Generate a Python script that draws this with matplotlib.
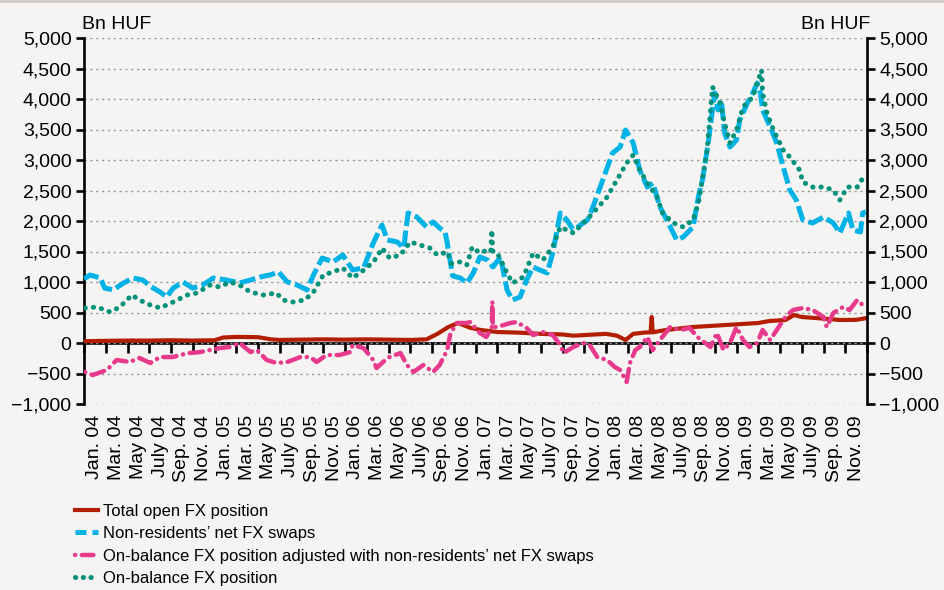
import matplotlib
matplotlib.use("Agg")
import matplotlib.pyplot as plt
from matplotlib import font_manager
from matplotlib.lines import Line2D
import numpy as np

# ---------------- data (x = months since Jan 2004) ----------------
month_names = ["Jan.", "Mar.", "May", "July", "Sep.", "Nov."]
years = ["04", "05", "06", "07", "08", "09"]
tick_labels = [f"{m} {y}" for y in years for m in month_names]

swaps_m = [0.0, 0.55, 1.5, 1.9, 2.7, 3.6, 4.5, 5.4, 6.2, 7.0, 7.6, 8.2, 9.1, 10.0, 10.9, 11.9,
           13.1, 14.3, 15.3, 16.2, 17.1, 17.9, 18.7, 19.6, 20.5, 21.1, 21.9, 22.9, 23.8, 24.7,
           25.7, 26.6, 27.4, 27.9, 28.8, 29.4, 29.8, 30.6, 31.5, 32.1, 32.7, 33.2, 33.4, 33.9,
           34.6, 35.2, 35.8, 36.4, 37.1, 37.6, 38.3, 38.9, 39.4, 40.1, 40.7, 41.3, 41.9, 42.6,
           43.1, 43.8, 44.4, 45.0, 46.3, 46.8, 47.7, 48.6, 49.3, 49.8, 50.5, 51.1, 51.8, 52.3,
           52.96, 53.6, 54.5, 55.1, 56.0, 56.5, 56.9, 57.4, 57.7, 58.0, 58.3, 58.6, 58.9, 59.4,
           60.0, 60.3, 61.0, 61.5, 61.9, 62.2, 62.4, 63.1, 63.7, 64.3, 64.9, 65.5, 66.1, 67.0,
           68.0, 68.9, 69.5, 70.3, 70.7, 71.4, 71.6, 71.9]
swaps_v = [1050, 1115, 1066, 900, 870, 980, 1066, 1033, 918, 836, 754, 900, 1000, 900, 950, 1066,
           1033, 983, 1033, 1082, 1115, 1164, 1000, 950, 870, 1115, 1393, 1328, 1443, 1197,
           1230, 1640, 1934, 1689, 1656, 1557, 2131, 2066, 1902, 1984, 1885, 1820, 1640, 1100,
           1066, 983, 1148, 1410, 1360, 1246, 1410, 870, 705, 754, 1033, 1246, 1197, 1148,
           1475, 2131, 2016, 1852, 2016, 2230, 2672, 3115, 3213, 3492, 3279, 2836, 2557, 2623,
           2230, 2016, 1689, 1738, 1902, 2400, 2700, 3279, 3705, 4098, 3820, 3984, 3443, 3213,
           3328, 3656, 3934, 4098, 4262, 4098, 3820, 3541, 3279, 2885, 2508, 2344, 2016, 1967,
           2066, 1967, 1803, 2131, 1852, 1820, 2131, 2150]

onbal_m = [0.1, 1.2, 2.4, 3.3, 4.4, 5.1, 6.1, 7.0, 8.2, 9.5, 10.4, 11.6, 12.5, 13.4, 14.3, 15.3,
           16.5, 17.7, 18.3, 19.2, 20.3, 21.1, 22.0, 22.9, 23.8, 24.7, 26.0, 26.9, 27.4, 28.1,
           29.1, 30.0, 30.9, 31.8, 32.5, 33.4, 33.8, 34.6, 35.2, 35.7, 36.4, 37.1, 37.4, 37.5,
           37.6, 38.0, 38.9, 39.4, 40.4, 41.3, 42.2, 43.1, 43.8, 45.0, 45.9, 46.8, 48.1, 49.0,
           49.9, 50.5, 51.1, 51.8, 52.7, 53.2, 54.2, 55.1, 56.0, 56.5, 57.3, 57.8, 58.5, 58.9,
           59.4, 60.0, 60.6, 61.5, 62.3, 62.4, 62.8, 63.4, 64.3, 64.9, 65.8, 66.1, 67.0, 68.0,
           68.9, 69.5, 70.2, 71.1, 71.8]
onbal_v = [574, 590, 508, 590, 787, 705, 623, 574, 672, 787, 820, 950, 918, 1000, 950, 836,
           787, 820, 705, 672, 705, 836, 1115, 1164, 1230, 1066, 1230, 1393, 1557, 1393,
           1443, 1656, 1607, 1557, 1443, 1492, 1300, 1330, 1279, 1574, 1475, 1525, 1500, 1852,
           1500, 1475, 1148, 983, 1082, 1475, 1361, 1574, 1902, 1803, 1967, 2131, 2393, 2672,
           2951, 3082, 2836, 2623, 2393, 2131, 1967, 1902, 2016, 2295, 3164, 4197, 3934, 3607,
           3279, 3492, 3869, 4033, 4475, 4098, 3770, 3492, 3164, 3049, 2836, 2639, 2557, 2557,
           2508, 2344, 2557, 2557, 2754]

total_m = [0, 2, 4, 6, 8, 10, 12, 12.8, 14, 16, 17.2, 18, 20, 22, 24, 26, 28, 30, 31.5, 32.5,
           33.5, 34.4, 35.5, 36.5, 38, 40, 42, 44, 45, 47, 48, 49, 49.8, 50.5, 51.5, 52.1, 52.2,
           52.3, 53.5, 56, 59, 62, 63, 64.5, 65.3, 66, 68, 69.5, 71, 72]
total_v = [30, 35, 40, 40, 45, 40, 45, 90, 100, 95, 60, 50, 55, 60, 55, 60, 55, 50, 60, 150,
           262, 328, 250, 213, 180, 170, 150, 140, 120, 140, 150, 120, 49, 150, 170, 175, 426,
           175, 213, 262, 295, 328, 360, 377, 459, 426, 400, 377, 380, 410]

adj_m = [0.1, 0.8, 2.1, 3.0, 4.2, 5.1, 6.1, 7.0, 8.2, 8.8, 9.7, 10.7, 11.6, 12.5, 13.4, 14.3,
         15.3, 15.9, 16.8, 17.7, 18.7, 19.9, 20.8, 21.4, 22.3, 23.5, 24.5, 24.7, 25.7, 26.6,
         26.9, 27.5, 28.1, 29.1, 29.7, 30.3, 31.2, 32.1, 32.7, 33.4, 33.7, 34.3, 35.2, 35.5,
         36.4, 37.0, 37.5, 37.55, 37.6, 38.0, 39.2, 39.8, 40.7, 41.3, 42.2, 43.1, 43.8, 44.1,
         45.0, 45.9, 46.5, 47.2, 48.1, 48.8, 49.3, 49.9, 50.2, 50.7, 51.1, 51.8, 52.3, 52.96,
         53.9, 54.8, 55.7, 56.4, 57.6, 58.2, 58.8, 59.4, 60.0, 60.6, 61.2, 61.9, 62.4, 63.1,
         63.7, 64.5, 65.2, 66.1, 67.0, 68.0, 68.3, 68.9, 69.8, 70.4, 71.1, 71.6, 72.0]
adj_v = [-475, -525, -443, -279, -311, -246, -328, -230, -230, -197, -164, -148, -115, -82, -66, 0,
         -148, -115, -279, -328, -311, -230, -230, -311, -197, -197, -148, -33, -82, -279,
         -410, -311, -230, -164, -361, -475, -361, -475, -361, -115, 164, 328, 328, 344,
         164, 98, 262, 680, 262, 262, 328, 344, 246, 131, 180, 131, -33, -164,
         -66, 0, -33, -230, -279, -393, -443, -639, -328, -115, -66, 98, -115, 49,
         262, 213, 246, 100, -66, 164, -115, 0, 262, 49, -66, 0, 213, 49,
         213, 426, 541, 574, 541, 426, 262, 492, 590, 541, 705, 623, 650]

series_labels = ["Total open FX position",
                 "Non-residents\u2019 net FX swaps",
                 "On-balance FX position adjusted with non-residents\u2019 net FX swaps",
                 "On-balance FX position"]

y_ticks = list(range(-1000, 5001, 500))
y_min, y_max = -1000, 5000
n_months = 72

# ---------------- style ----------------
BG = "#F5F4F2"
RED = "#B41E00"
CYAN = "#00B2E5"
PINK = "#E83A8C"
TEAL = "#00917B"

names = {f.name for f in font_manager.fontManager.ttflist}
BASE = "Liberation Sans" if "Liberation Sans" in names else "DejaVu Sans"
plt.rcParams["font.family"] = [BASE, "DejaVu Sans"]
if "Liberation Sans Narrow" in names:
    LEG_FAM = ["Liberation Sans Narrow", BASE]
    LEG_SIZE = 14
else:
    LEG_FAM = [BASE]
    LEG_SIZE = 12

W, H = 944, 590
fig = plt.figure(figsize=(W / 100, H / 100), dpi=100, facecolor=BG)
ax = fig.add_axes([84 / W, 1 - 404 / H, (867 - 84) / W, (404 - 38) / H], facecolor=BG)

lw_axis = 1.9
fs = 14

# lines
ax.plot(total_m, total_v, color=RED, lw=3.0, solid_capstyle="round", zorder=4)
ax.plot(swaps_m, swaps_v, color=CYAN, lw=3.6, linestyle=(0, (3.2, 0.9)), dash_capstyle="butt", zorder=3)
ax.plot(onbal_m, onbal_v, color=TEAL, lw=3.6, linestyle=(0, (0.05, 1.6)), dash_capstyle="round", zorder=5)
ax.plot(adj_m, adj_v, color=PINK, lw=3.2, linestyle=(0, (0.05, 1.5, 3.0, 1.5)), dash_capstyle="round", zorder=6)

ax.set_xlim(0, n_months)
ax.set_ylim(y_min, y_max)
ax.set_yticks(y_ticks)
ax.set_yticklabels([f"{v:,}".replace("-", "\u2212") for v in y_ticks], fontsize=fs)
ax.grid(axis="y", color="#9A9A9A", linestyle=(0, (1.6, 2.6)), lw=1.0)

# x category labels at centers of two-month bins
centers = np.arange(1, n_months, 2)
ax.set_xticks(centers)
ax.set_xticklabels(tick_labels, rotation=90, fontsize=fs, va="top", ha="center")
ax.tick_params(axis="x", length=0, pad=8)
ax.tick_params(axis="y", direction="out", length=6, width=lw_axis, pad=3, labelsize=fs)

for s in ["top", "bottom"]:
    ax.spines[s].set_visible(False)
ax.spines["left"].set_linewidth(lw_axis)
ax.spines["right"].set_visible(False)

# zero axis with boundary ticks
sec = ax.secondary_xaxis((0 - y_min) / (y_max - y_min))
sec.set_xticks(np.arange(0, n_months + 1, 2))
sec.set_xticklabels([])
sec.tick_params(axis="x", direction="out", length=7, width=lw_axis, color="black")
sec.spines["bottom"].set_linewidth(lw_axis)
sec.spines["bottom"].set_color("black")

# right axis
ax2 = ax.twinx()
ax2.set_ylim(y_min, y_max)
ax2.set_yticks(y_ticks)
ax2.set_yticklabels([f"{v:,}".replace("-", "\u2212") for v in y_ticks], fontsize=fs)
ax2.tick_params(axis="y", direction="out", length=6, width=lw_axis, pad=3, labelsize=fs)
for s in ["top", "bottom", "left"]:
    ax2.spines[s].set_visible(False)
ax2.spines["right"].set_linewidth(lw_axis)

# unit labels
fig.text(82 / W, 1 - 29 / H, "Bn HUF", fontsize=fs, ha="left", va="baseline")
fig.text(870 / W, 1 - 29 / H, "Bn HUF", fontsize=fs, ha="right", va="baseline")

# top border
fig.add_artist(Line2D([0, 1], [1 - 1 / H, 1 - 1 / H], color="#CFCCC8", lw=2, transform=fig.transFigure))

# legend
handles = [
    Line2D([], [], color=RED, lw=3.0),
    Line2D([], [], color=CYAN, lw=3.6, linestyle=(0, (2.2, 1.2))),
    Line2D([], [], color=PINK, lw=3.2, linestyle=(0, (0.05, 1.5, 2.6, 1.5)), dash_capstyle="round"),
    Line2D([], [], color=TEAL, lw=3.6, linestyle=(0, (0.05, 1.5)), dash_capstyle="round"),
]
fs_px = LEG_SIZE * 100 / 72
leg = fig.legend(handles, series_labels, loc="upper left", bbox_to_anchor=(75 / W, 1 - 504 / H),
                 frameon=False, prop={"family": LEG_FAM, "size": LEG_SIZE},
                 handlelength=23 / fs_px, handletextpad=5 / fs_px,
                 labelspacing=max(0.0, (24.0 - fs_px) / fs_px), borderpad=0, borderaxespad=0)

fig.savefig("out.png", dpi=100, facecolor=BG)
